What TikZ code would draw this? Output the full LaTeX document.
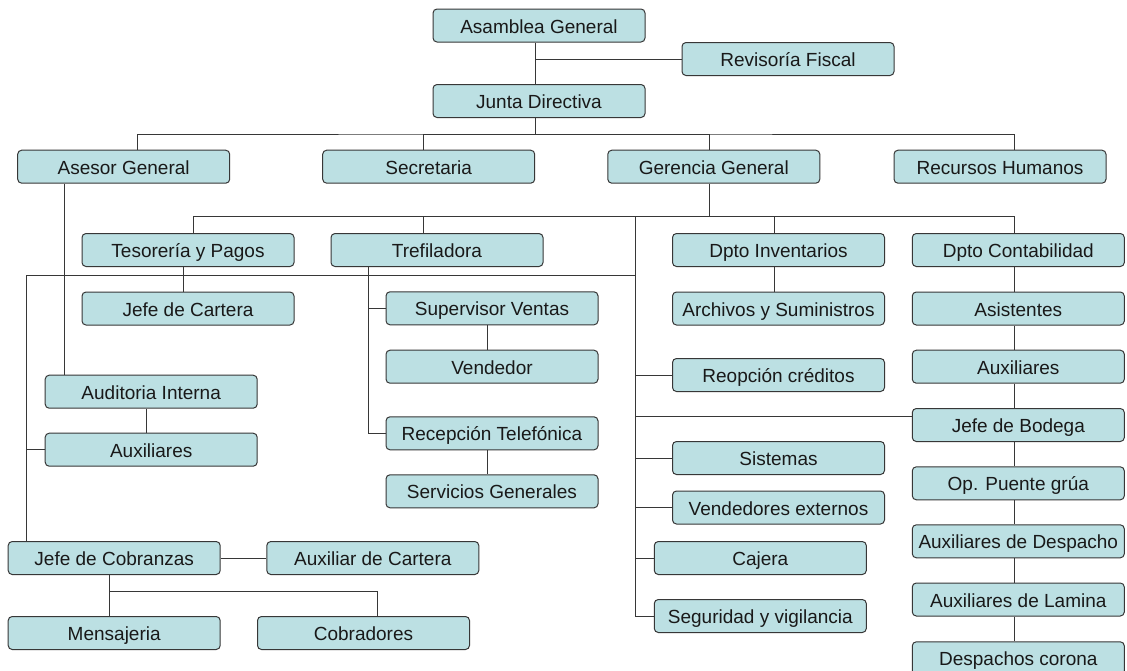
\documentclass[tikz,border=0pt]{standalone}
\usepackage{fontspec}
\setmainfont{Liberation Sans}
\definecolor{boxfill}{RGB}{188,224,227}
\definecolor{edge}{RGB}{55,55,55}
\begin{document}
\begin{tikzpicture}[x=1pt,y=-1pt,
  unit/.style={draw=edge, fill=boxfill, rounded corners=4pt, line width=1pt,
    minimum width=212pt, minimum height=33pt, inner sep=2pt,
    text height=15pt, text depth=0pt,
    font=\fontsize{19}{22}\selectfont, text=black!90},
  link/.style={draw=edge, line width=1pt}]
\fill[white] (0,0) rectangle (1127,670);
\useasboundingbox (0,0) rectangle (1127,670);

% top management
\node[unit] (ag) at (539,25.5) {Asamblea General};
\node[unit] (rf) at (788,59) {Revisoría Fiscal};
\node[unit] (jd) at (539,101) {Junta Directiva};

% first level
\node[unit] (ase) at (123.7,166.7) {Asesor General};
\node[unit] (sec) at (428.7,166.7) {Secretaria};
\node[unit] (ger) at (713.8,166.7) {Gerencia General};
\node[unit] (rh)  at (1000,166.7) {Recursos Humanos};

% departments
\node[unit] (tes) at (188,250) {Tesorería y Pagos};
\node[unit] (tre) at (437,250) {Trefiladora};
\node[unit] (inv) at (778.5,250) {Dpto Inventarios};
\node[unit] (con) at (1018.3,250) {Dpto Contabilidad};

\node[unit] (jc)  at (188,308.5) {Jefe de Cartera};
\node[unit] (sv)  at (492,308.3) {Supervisor Ventas};
\node[unit] (arc) at (778.5,308.5) {Archivos y Suministros};
\node[unit] (asi) at (1018.3,308.5) {Asistentes};

\node[unit] (ven)  at (492,366.7) {Vendedor};
\node[unit] (rep)  at (778.5,375) {Reopción créditos};
\node[unit] (aux2) at (1018.3,366.7) {Auxiliares};

\node[unit] (ai)  at (151.2,391.7) {Auditoria Interna};
\node[unit] (jb)  at (1018.3,425) {Jefe de Bodega};
\node[unit] (rt)  at (492,433.3) {Recepción Telefónica};
\node[unit] (aux1) at (151.2,449.7) {Auxiliares};
\node[unit] (sis) at (778.5,458) {Sistemas};
\node[unit] (sg)  at (492,491.3) {Servicios Generales};
\node[unit] (op)  at (1018.3,483.3) {Op. Puente grúa};
\node[unit] (ve)  at (778.5,507.5) {Vendedores externos};
\node[unit] (ad)  at (1018.3,541.3) {Auxiliares de Despacho};
\node[unit] (caj) at (760.3,558) {Cajera};
\node[unit] (jcob) at (114.2,558) {Jefe de Cobranzas};
\node[unit] (ac)  at (372.8,558) {Auxiliar de Cartera};
\node[unit] (al)  at (1018.3,599.5) {Auxiliares de Lamina};
\node[unit] (seg) at (760.3,616) {Seguridad y vigilancia};
\node[unit] (men) at (114.2,633) {Mensajeria};
\node[unit] (cob) at (363.5,633) {Cobradores};
\node[unit] (dc)  at (1018.3,658.3) {Despachos corona};

% connectors: top
\draw[link] ([xshift=-4pt]ag.south) -- ([xshift=-4pt]jd.north);
\coordinate (rfj) at (535,59);
\draw[link] (rfj) -- (rf.west);
\coordinate (bus1) at (535,134);
\draw[link] ([xshift=-4pt]jd.south) -- (bus1);
\draw[link] ([xshift=14pt]ase.north) |- (bus1) -| ([xshift=14pt]rh.north);
\draw[link] ([xshift=-5pt]sec.north) |- (bus1);
\draw[link] ([xshift=-4pt]ger.north) |- (bus1);

% connectors: under Gerencia General
\coordinate (bus2) at (709.8,216.7);
\draw[link] ([xshift=-4pt]ger.south) -- (bus2);
\draw[link] ([xshift=5pt]tes.north) |- (bus2) -| ([xshift=-4.3pt]con.north);
\draw[link] ([xshift=-13.4pt]tre.north) |- (bus2);
\draw[link] ([xshift=-4.5pt]inv.north) |- (bus2);
\coordinate (sp) at (635.7,216.7);
\draw[link] (sp) |- (seg.west);
\foreach \n in {rep,sis,ve,caj}
  \draw[link] (sp |- \n.west) -- (\n.west);
\coordinate (jbl) at ([yshift=8.3pt]jb.west);
\draw[link] (sp |- jbl) -- (jbl);

% left branch to Cobranzas
\coordinate (h2) at (635.7,275.3);
\coordinate (lv) at ([xshift=-87.4pt]jcob.north);
\draw[link] (h2) -| (lv);
\draw[link] (aux1.west) -- (aux1.west -| lv);

\draw[link] ([xshift=-4.4pt]tes.south) -- ([xshift=-4.4pt]jc.north);
\coordinate (tv) at ([xshift=-68.7pt]tre.south);
\draw[link] (tv) |- (rt.west);
\draw[link] (sv.west) -- (sv.west -| tv);
\draw[link] ([xshift=-4.3pt]sv.south) -- ([xshift=-4.3pt]ven.north);
\draw[link] ([xshift=-4.1pt]rt.south) -- ([xshift=-4.1pt]sg.north);

\coordinate (av) at ([xshift=-59.4pt]ase.south);
\draw[link] (av) -- (av |- ai.north);
\draw[link] ([xshift=-4.4pt]ai.south) -- ([xshift=-4.4pt]aux1.north);

\draw[link] (jcob.east) -- (ac.west);
\draw[link] ([xshift=-4.6pt]jcob.south) -- ([xshift=-4.6pt]men.north);
\coordinate (cb) at (109.6,591.7);
\draw[link] ([xshift=14pt]cob.north) |- (cb);

\draw[link] ([xshift=-4.5pt]inv.south) -- ([xshift=-4.5pt]arc.north);
\foreach \a/\b in {con/asi,asi/aux2,aux2/jb,jb/op,op/ad,ad/al,al/dc}
  \draw[link] ([xshift=-4.3pt]\a.south) -- ([xshift=-4.3pt]\b.north);
\end{tikzpicture}
\end{document}
